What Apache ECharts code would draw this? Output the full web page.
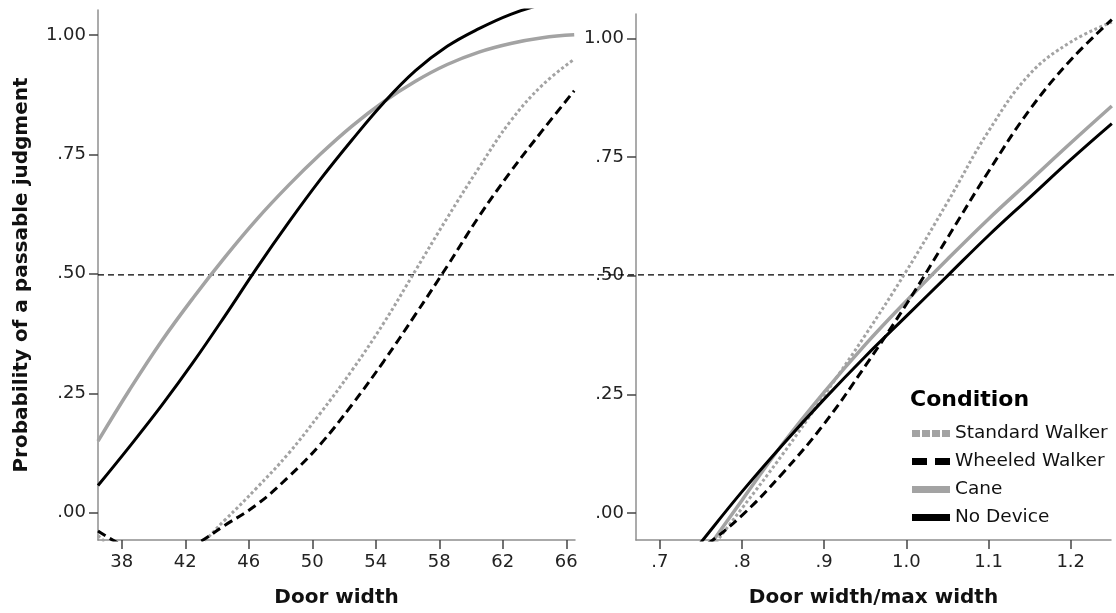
<!DOCTYPE html>
<html>
<head>
<meta charset="utf-8">
<script src="https://cdn.jsdelivr.net/npm/echarts@6/dist/echarts.min.js"></script>
<style>html,body{margin:0;padding:0;background:#fff}#c{width:1116px;height:613px}</style>
</head>
<body>
<div id="c"></div>
<script>
// ---- Data ----
const seriesNames = ['Standard Walker', 'Wheeled Walker', 'Cane', 'No Device'];

// Left panel: Door width
const leftX      = [36.5, 38.5, 40.5, 42.5, 44.5, 46.5, 48.5, 50.5, 52.5, 54.5, 56.5, 58.5, 60.5, 62.5, 64.5, 66.5];
const standardL  = [-0.048, -0.095, -0.105, -0.077, -0.015, 0.052, 0.124, 0.208, 0.298, 0.397, 0.507, 0.617, 0.722, 0.82, 0.895, 0.949];
const wheeledL   = [-0.038, -0.075, -0.09, -0.068, -0.026, 0.017, 0.075, 0.143, 0.226, 0.317, 0.415, 0.516, 0.62, 0.714, 0.80, 0.883];
const caneL      = [0.15, 0.258, 0.359, 0.45, 0.535, 0.614, 0.685, 0.75, 0.809, 0.86, 0.903, 0.938, 0.964, 0.982, 0.994, 1.0];
const noDeviceL  = [0.057, 0.139, 0.224, 0.315, 0.412, 0.512, 0.607, 0.697, 0.78, 0.858, 0.925, 0.976, 1.013, 1.043, 1.064, 1.078];

// Right panel: Door width / max width
const rightX     = [0.70, 0.75, 0.8, 0.85, 0.9, 0.95, 1.0, 1.05, 1.1, 1.15, 1.2, 1.25];
const standardR  = [-0.19, -0.1, 0.01, 0.125, 0.248, 0.375, 0.51, 0.655, 0.805, 0.925, 0.993, 1.035];
const wheeledR   = [-0.125, -0.075, -0.005, 0.085, 0.188, 0.31, 0.44, 0.58, 0.72, 0.85, 0.955, 1.04];
const caneR      = [-0.217, -0.095, 0.027, 0.147, 0.255, 0.355, 0.447, 0.535, 0.62, 0.70, 0.78, 0.858];
const noDeviceR  = [-0.17, -0.062, 0.045, 0.145, 0.24, 0.33, 0.415, 0.5, 0.585, 0.665, 0.745, 0.821];

// Ticks
const leftTicks       = [38, 42, 46, 50, 54, 58, 62, 66];
const rightTicks      = [0.7, 0.8, 0.9, 1.0, 1.1, 1.2];
const rightTickLabels = ['.7', '.8', '.9', '1.0', '1.1', '1.2'];
const yTicks          = [0, 0.25, 0.5, 0.75, 1];
const yTickLabels     = ['.00', '.25', '.50', '.75', '1.00'];
const refY = 0.5;

// ---- Styles ----
const FONT = 'DejaVu Sans';
const GRAY = '#a3a3a3';
const styles = {
  'Standard Walker': { color: GRAY, width: 3, type: [3, 2.5] },
  'Wheeled Walker':  { color: '#000', width: 3, type: [9, 5] },
  'Cane':            { color: GRAY, width: 3.5, type: 'solid' },
  'No Device':       { color: '#000', width: 3, type: 'solid' }
};
const legendIcons = {
  'Standard Walker': { color: GRAY,  icon: 'path://M0,0h8v7h-8z M10,0h8v7h-8z M20,0h8v7h-8z M30,0h8v7h-8z' },
  'Wheeled Walker':  { color: '#000', icon: 'path://M0,0h15v7h-15z M23,0h15v7h-15z' },
  'Cane':            { color: GRAY,  icon: 'path://M0,0h38v7h-38z' },
  'No Device':       { color: '#000', icon: 'path://M0,0h38v7h-38z' }
};

function zip(xs, ys) { return xs.map((x, i) => [x, ys[i]]); }

function mkSeries(name, xs, ys, idx) {
  const s = styles[name];
  return {
    name: name, type: 'line', xAxisIndex: idx, yAxisIndex: idx,
    data: zip(xs, ys), smooth: 0.4, symbol: 'none', clip: true,
    lineStyle: { color: s.color, width: s.width, type: s.type, cap: 'butt' },
    itemStyle: { color: s.color },
    emphasis: { disabled: true }, z: 3
  };
}

const axisLineStyle = { show: true, onZero: false, lineStyle: { color: '#8f8f8f', width: 1.5 } };
const tickStyle = (vals) => ({ show: true, inside: false, length: 9, customValues: vals, lineStyle: { color: '#444', width: 1.5 } });

function yAxis(idx, withName) {
  return {
    type: 'value', gridIndex: idx, min: -0.057, max: 1.052,
    axisLine: axisLineStyle,
    axisTick: tickStyle(yTicks),
    splitLine: { show: false },
    axisLabel: {
      customValues: yTicks, margin: 12, fontSize: 18, color: '#222', fontFamily: FONT,
      formatter: v => yTickLabels[yTicks.findIndex(t => Math.abs(t - v) < 1e-9)]
    },
    name: withName ? 'Probability of a passable judgment' : '',
    nameLocation: 'middle', nameGap: 66,
    nameTextStyle: { fontSize: 20, fontWeight: 'bold', color: '#111', fontFamily: FONT }
  };
}

const option = {
  animation: false,
  backgroundColor: '#fff',
  textStyle: { fontFamily: FONT },
  title: {
    text: 'Condition', left: 905, top: 384,
    textStyle: { fontSize: 22, fontWeight: 'bold', color: '#000', fontFamily: FONT }
  },
  legend: {
    orient: 'vertical', left: 907, top: 419,
    itemWidth: 38, itemHeight: 7, itemGap: 9,
    textStyle: { fontSize: 18.5, color: '#111', fontFamily: FONT },
    data: seriesNames.map(n => ({ name: n, icon: legendIcons[n].icon, itemStyle: { color: legendIcons[n].color } })),
    selectedMode: false
  },
  grid: [
    { left: 98, right: 541, top: 10, bottom: 71 },
    { left: 636, right: 5, top: 14, bottom: 71 },
    { left: 98, right: 0, top: 10, bottom: 71 }
  ],
  xAxis: [
    {
      type: 'value', gridIndex: 0, min: 36.5, max: 66.55,
      axisLine: axisLineStyle, axisTick: tickStyle(leftTicks), splitLine: { show: false },
      axisLabel: { customValues: leftTicks, margin: 13, fontSize: 18, color: '#222', fontFamily: FONT },
      name: 'Door width', nameLocation: 'middle', nameGap: 48,
      nameTextStyle: { fontSize: 20, fontWeight: 'bold', color: '#111', fontFamily: FONT }
    },
    {
      type: 'value', gridIndex: 1, min: 0.671, max: 1.249,
      axisLine: axisLineStyle, axisTick: tickStyle(rightTicks), splitLine: { show: false },
      axisLabel: {
        customValues: rightTicks, margin: 13, fontSize: 18, color: '#222', fontFamily: FONT,
        formatter: v => rightTickLabels[rightTicks.findIndex(t => Math.abs(t - v) < 1e-9)]
      },
      name: 'Door width/max width', nameLocation: 'middle', nameGap: 48,
      nameTextStyle: { fontSize: 20, fontWeight: 'bold', color: '#111', fontFamily: FONT }
    },
    { type: 'value', gridIndex: 2, min: 0, max: 1, show: false }
  ],
  yAxis: [
    yAxis(0, true),
    yAxis(1, false),
    { type: 'value', gridIndex: 2, min: -0.057, max: 1.052, show: false }
  ],
  series: [
    {
      name: 'ref', type: 'line', xAxisIndex: 2, yAxisIndex: 2, symbol: 'none', silent: true,
      data: [[0, refY], [1, refY]],
      lineStyle: { color: '#000', width: 1.2, type: [6, 4] }, z: 2
    },
    mkSeries('Cane', leftX, caneL, 0),
    mkSeries('Standard Walker', leftX, standardL, 0),
    mkSeries('No Device', leftX, noDeviceL, 0),
    mkSeries('Wheeled Walker', leftX, wheeledL, 0),
    mkSeries('Cane', rightX, caneR, 1),
    mkSeries('Standard Walker', rightX, standardR, 1),
    mkSeries('No Device', rightX, noDeviceR, 1),
    mkSeries('Wheeled Walker', rightX, wheeledR, 1)
  ]
};

const chart = echarts.init(document.getElementById('c'), null, { renderer: 'canvas' });
chart.setOption(option);
</script>
</body>
</html>
